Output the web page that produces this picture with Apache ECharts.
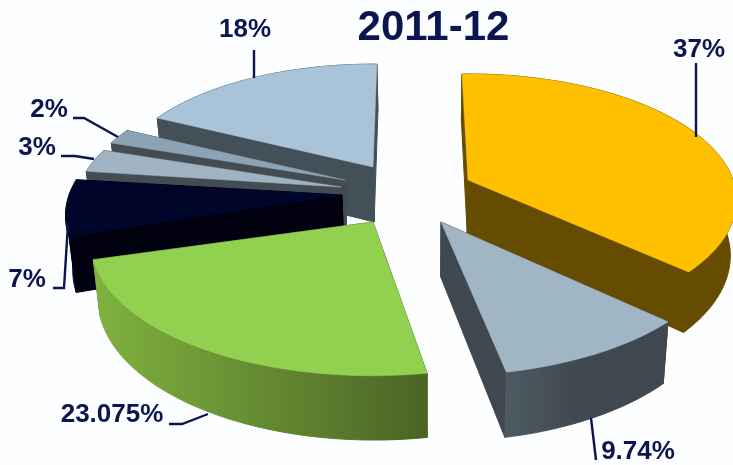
<!DOCTYPE html>
<html><head><meta charset="utf-8">
<style>html,body{margin:0;padding:0;background:#fdfeff}#c{width:733px;height:465px}</style>
<script src="https://cdn.jsdelivr.net/npm/echarts@6/dist/echarts.min.js"></script>
</head><body><div id="c"></div>
<script>
const titleText = '2011-12';
const sliceValues = [37, 9.74, 23.075, 7, 3, 2, 18];
const sliceLabels = ['37%', '9.74%', '23.075%', '7%', '3%', '2%', '18%'];
// styling and layout of each slice: apex, scale, rotation (deg), depth, colours
const sliceLayout = [
  {cx:468,cy:180,k:1.00,rot:-1.5,d:54,top:'#FFC000',w0:'#654C00',w1:'#654C00',mid:1},
  {cx:441,cy:222,k:1.05,rot:0,  d:55,top:'#A0B6C4',w0:'#4E5B63',w1:'#40484F',mid:0.45},
  {cx:373,cy:222,k:1.05,rot:2,  d:54,top:'#92D050',w0:'#80B23F',w1:'#4A6425',mid:1},
  {cx:342,cy:195,k:1.03,rot:0,  d:53,top:'#000629',w0:'#00000F',w1:'#00000F',mid:1},
  {cx:341,cy:187,k:0.99,rot:0.5,d:52,top:'#A0B3C3',w0:'#434C53',w1:'#434C53',mid:1},
  {cx:345,cy:180,k:0.98,rot:1,  d:52,top:'#8CA3B4',w0:'#434C53',w1:'#434C53',mid:1},
  {cx:373,cy:167,k:0.97,rot:1,  d:55,top:'#A9C4D9',w0:'#445057',w1:'#445057',mid:1}
];
const paintOrder = [6,5,4,3,2,0,1];
const RX = 265, RY = 123, P = 0.16, VANISH_X = 430, SHRINK = 0.02;

const ink = '#0B1650';
const labelAnchors = [[699,50],[638,452],[112,415],[27,280],[37,148],[49,110],[245,30]];
const leaderPaths = [
  [[696,63],[696,137]],
  [[591,418],[596,460]],
  [[169,424],[182,424],[208,414]],
  [[53,288],[64,288],[68,224]],
  [[61,156],[75,156],[94,159]],
  [[73,118],[84,118],[118,137]],
  [[254,50],[254,78]]
];

const total = sliceValues.reduce((a,b)=>a+b,0);
const starts = []; sliceValues.reduce((acc,v,i)=>{starts[i]=acc;return acc+v;},0);
const rows = paintOrder.map(i=>[sliceValues[i], starts[i], i]);

function project(l, a){
  const X=Math.sin(a), Y=-Math.cos(a), s=1/(1-P*Y);
  return {x:l.cx+RX*l.k*X*s, y:l.cy+RY*l.k*Y*s, s:s};
}
function renderItem(params, api){
  const value=api.value(0), start=api.value(1), l=sliceLayout[api.value(2)];
  const rot=l.rot*Math.PI/180;
  const a0=start/total*2*Math.PI+rot, a1=(start+value)/total*2*Math.PI+rot;
  const n=Math.max(12,Math.round((a1-a0)*40));
  const arc=[]; for(let i=0;i<=n;i++) arc.push(project(l,a0+(a1-a0)*i/n));
  const down=p=>[p.x+(VANISH_X-p.x)*SHRINK,p.y+l.d*p.s];
  const apexP={x:l.cx,y:l.cy,s:1}, apex=[l.cx,l.cy], apexD=down(apexP);
  const first=arc[0], last=arc[n];
  const poly=(pts,fill,w)=>({type:'polygon',shape:{points:pts},style:{fill:fill,stroke:fill,lineWidth:w,lineJoin:'round'},silent:true});
  const grad={type:'linear',x:0,y:0,x2:1,y2:0,colorStops:[{offset:0,color:l.w0},{offset:l.mid,color:l.w1},{offset:1,color:l.w1}]};
  const wall=arc.map(p=>[p.x,p.y]).concat(arc.slice().reverse().map(down));
  return {type:'group',children:[
    poly([apex,[first.x,first.y],down(first),apexD],l.w1,1),
    poly([apex,[last.x,last.y],down(last),apexD],l.w1,1),
    poly(wall,grad,1),
    poly([apex].concat(arc.map(p=>[p.x,p.y])),l.top,0.5)
  ]};
}
const graphics=[];
leaderPaths.forEach(p=>graphics.push({type:'polyline',z:20,shape:{points:p},style:{stroke:ink,lineWidth:2.4,fill:'none'},silent:true}));
sliceLabels.forEach((t,i)=>graphics.push({type:'text',z:21,x:labelAnchors[i][0],y:labelAnchors[i][1],
  style:{text:t,fill:ink,font:'bold 26px "Liberation Sans", Arial, sans-serif',align:'center',verticalAlign:'middle'},silent:true}));

const chart=echarts.init(document.getElementById('c'),null,{renderer:'canvas'});
chart.setOption({
  animation:false,
  backgroundColor:'#fdfeff',
  title:{text:titleText,left:428.5,top:2,textAlign:'center',textStyle:{fontFamily:'"Liberation Sans", Arial, sans-serif',fontWeight:'bold',fontSize:42,color:ink}},
  graphic:graphics,
  series:[{type:'custom',coordinateSystem:'none',silent:true,renderItem:renderItem,data:rows,z:5}]
});
</script></body></html>
